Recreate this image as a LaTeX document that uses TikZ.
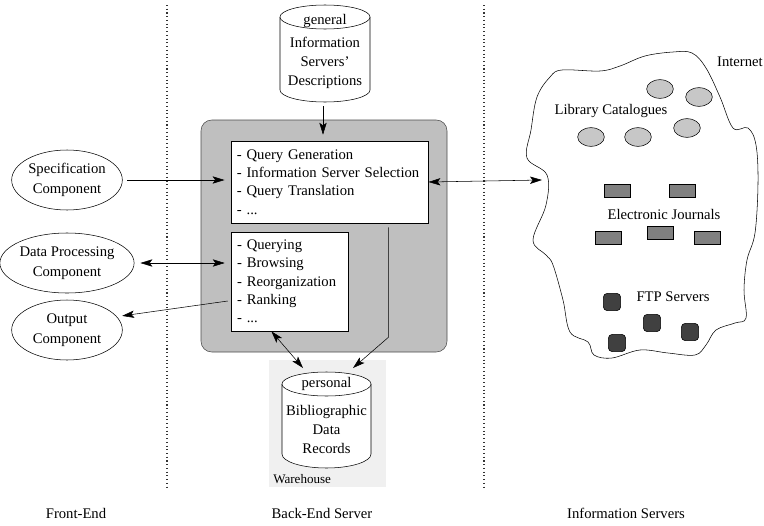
\documentclass[tikz,border=0pt]{standalone}
\usepackage{fontspec}
\setmainfont{Liberation Serif}
\usetikzlibrary{shapes, arrows.meta, positioning, calc}

\begin{document}
\begin{tikzpicture}[x=0.75pt, y=-0.75pt,
            font=\fontsize{11}{13.7}\selectfont,
            >={Stealth[length=9pt, width=5.5pt, inset=2pt]},
            comp/.style={ellipse, draw, minimum width=83pt, minimum height=45pt, inner sep=0pt, align=center, font=\fontsize{11}{15}\selectfont},
            tasks/.style={draw, fill=white, align=left, inner xsep=4.5pt, inner ysep=0pt},
            cyltext/.style={anchor=north, inner sep=0pt, align=center, font=\fontsize{11}{14.3}\selectfont},
            catalog/.style={ellipse, draw, fill=black!22, minimum width=20pt, minimum height=14pt},
            journal/.style={draw, fill=black!50, minimum width=19.5pt, minimum height=10pt, inner sep=0pt},
            ftpsrv/.style={draw, fill=black!75, rounded corners=3pt, minimum size=13pt, inner sep=0pt},
            divider/.style={dotted, thick, black!80}]
            \useasboundingbox (0,0) rectangle (764,525);
            % tiers
            \coordinate (d1t) at (167,5); \coordinate (d1b) at (167,490);
            \coordinate (d2t) at (484,5); \coordinate (d2b) at (484,490);
            \draw[divider] (d1t) -- (d1b);
            \draw[divider] (d2t) -- (d2b);
            \node (fe) at (76,513) {Front-End};
            \node (be) at (322,513) {Back-End Server};
            \node (is) at (626,513) {Information Servers};
            % front-end components
            \node[comp] (spec) at (67,180) {Specification\\Component};
            \node[comp] (dproc) at (67,263) {Data Processing\\Component};
            \node[comp] (outp) at (67,330) {Output\\Component};
            % back-end server
            \node[draw=black!70, fill=black!25, rounded corners=8pt, minimum width=184.5pt, minimum height=174pt] (bes) at (324,236) {};
            \node[tasks, text width=139pt, minimum height=61.5pt] (qbox) at (329.5,182)
                {- Query Generation\\- Information Server Selection\\- Query Translation\\- ...};
            \node[tasks, text width=78.75pt, minimum height=74.25pt] (pbox) at (289.5,281.5)
                {- Querying\\- Browsing\\- Reorganization\\- Ranking\\- ...};
            \fill[black!6] (269,360) rectangle (386,487);
            \node[anchor=south west, inner sep=0pt, font=\fontsize{9.8}{11}\selectfont] (wh) at (273,484) {Warehouse};
            % databases
            \draw[fill=white] (280,17) -- (280,90) arc[start angle=180, end angle=0, x radius=45, y radius=12] -- (370,17);
            \draw[fill=white] (325,17) ellipse[x radius=45, y radius=12];
            \node[cyltext] (gen) at (325,14) {general\\[3pt]Information\\Servers'\\Descriptions};
            \draw[fill=white] (282,384) -- (282,454) arc[start angle=180, end angle=0, x radius=44.5, y radius=14] -- (371,384);
            \draw[fill=white] (326.5,384) ellipse[x radius=44.5, y radius=12];
            \node[cyltext] (pers) at (326.5,377) {personal\\[7pt]Bibliographic\\Data\\Records};
            \coordinate (genb) at (323,106);
            \coordinate (persA) at (303,368);
            \coordinate (persB) at (353,368);
            \coordinate (qout) at ($(qbox.south east)+(-40,4)$);
            % internet
            \draw plot[smooth cycle, tension=0.6] coordinates {
                (562,70) (600,71) (620,66) (645,56) (673,52) (692,53) (706,68) (720,97)
                (733,128) (748,128) (756,145) (758,183) (755,233) (747,260) (744,290)
                (746,318) (735,323) (716,330) (706,345) (695,355) (668,353) (640,350)
                (612,358) (594,355) (588,342) (570,332) (563,300) (553,265) (546,255)
                (533,240) (546,205) (547,175) (527,158) (531,130) (537,97) (550,77)};
            \coordinate (inet) at (542,180);
            \node[anchor=north east, inner sep=0pt] (inlbl) at (763,57) {Internet};
            \node[catalog] (c1) at (660,89) {};
            \node[catalog] (c2) at (699,97) {};
            \node[catalog] (c3) at (687,128) {};
            \node[catalog] (c4) at (591,137) {};
            \node[catalog] (c5) at (638,137) {};
            \node (lcat) at (611,111) {Library Catalogues};
            \node[journal] (j1) at (617,191) {};
            \node[journal] (j2) at (682,191) {};
            \node[journal] (j3) at (608,238) {};
            \node[journal] (j4) at (660,233) {};
            \node[journal] (j5) at (707,238) {};
            \node (ejou) at (664,214) {Electronic Journals};
            \node[ftpsrv] (f1) at (612,302) {};
            \node[ftpsrv] (f2) at (652,323) {};
            \node[ftpsrv] (f3) at (690,332) {};
            \node[ftpsrv] (f4) at (617,343) {};
            \node (ftp) at (673,297) {FTP Servers};
            % connections
            \draw[->, shorten >=4.5pt] (genb) -- (genb |- qbox.north);
            \draw[->, shorten <=3.5pt, shorten >=4.5pt] (spec.east) -- (qbox.west |- spec.east);
            \draw[<->, shorten <=4.5pt, shorten >=4.5pt] (dproc.east) -- (pbox.west |- dproc.east);
            \draw[->, shorten >=4pt] ($(pbox.west)+(-3,19.5)$) -- (outp.15);
            \draw[<->] (qbox.east) -- (inet);
            \draw[<->] (pbox.250) -- (persA);
            \draw[->] (qout) -- ++(0,110) -- (persB);
        \end{tikzpicture}
\end{document}
